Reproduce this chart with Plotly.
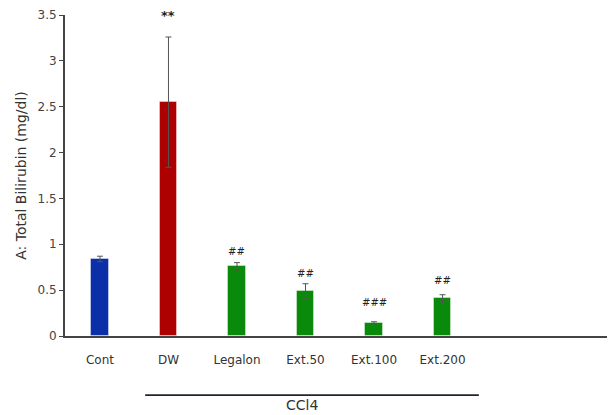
import plotly.graph_objects as go

# Group labels, means and error (SD) of total bilirubin
groups = ["Cont", "DW", "Legalon", "Ext.50", "Ext.100", "Ext.200"]
means = [0.84, 2.55, 0.76, 0.49, 0.145, 0.41]
errors = [0.03, 0.71, 0.04, 0.08, 0.01, 0.04]
colors = ["#0a2fa8", "#ad0000", "#0a8a0a", "#0a8a0a", "#0a8a0a", "#0a8a0a"]
marks = ["", "**", "##", "##", "###", "##"]
mark_y = [0, 3.5, 0.92, 0.68, 0.37, 0.60]

yticks = [0, 0.5, 1, 1.5, 2, 2.5, 3, 3.5]
ytick_text = ["0", "0.5", "1", "1.5", "2", "2.5", "3", "3.5"]

font_family = "'DejaVu Sans', sans-serif"
xpos = list(range(len(groups)))

fig = go.Figure()
fig.add_trace(go.Bar(
    x=xpos, y=means, width=0.25,
    marker=dict(color=colors, line=dict(color="rgba(255,255,255,0.4)", width=1)),
    error_y=dict(type="data", array=errors, symmetric=True,
                 color="#555555", thickness=1, width=3),
    showlegend=False,
))

# Significance marks above the bars
for x, m, y in zip(xpos, marks, mark_y):
    if m:
        size = 13 if m == "**" else 10
        fig.add_annotation(x=x, y=y, text=f"<b>{m}</b>" if m == "**" else f"<i>{m}</i>",
                           showarrow=False,
                           font=dict(family=font_family, size=size, color="#222222"),
                           xanchor="center", yanchor="middle")

# CCl4 group bracket
fig.add_shape(type="line", xref="x", yref="paper",
              x0=0.66, x1=5.53, y0=-0.184, y1=-0.184,
              line=dict(color="#222233", width=1.8))
fig.add_annotation(xref="x", yref="paper", x=2.95, y=-0.215, text="CCl4",
                   showarrow=False, xanchor="center", yanchor="middle",
                   font=dict(family=font_family, size=14, color="#333333"))

fig.update_layout(
    width=609, height=415,
    margin=dict(l=65, r=2, t=15, b=79),
    plot_bgcolor="white", paper_bgcolor="white",
    bargap=0,
    font=dict(family=font_family, color="#444444"),
    xaxis=dict(
        range=[-0.51, 7.4],
        tickmode="array", tickvals=xpos, ticktext=groups,
        ticks="outside", ticklen=12, tickcolor="rgba(0,0,0,0)",
        tickfont=dict(size=12, color="#333333"),
        showline=True, linecolor="#444444", linewidth=2,
        showgrid=False, zeroline=False,
    ),
    yaxis=dict(
        range=[0, 3.5],
        tickmode="array", tickvals=yticks, ticktext=ytick_text,
        ticks="outside", ticklen=4, tickcolor="#444444", tickwidth=1,
        tickfont=dict(size=12, color="#444444"),
        showline=True, linecolor="#444444", linewidth=2,
        showgrid=False, zeroline=False,
        title=dict(text="A: Total Bilirubin (mg/dl)", standoff=8,
                   font=dict(size=14, color="#333333")),
    ),
)

fig.write_html("out.html")
